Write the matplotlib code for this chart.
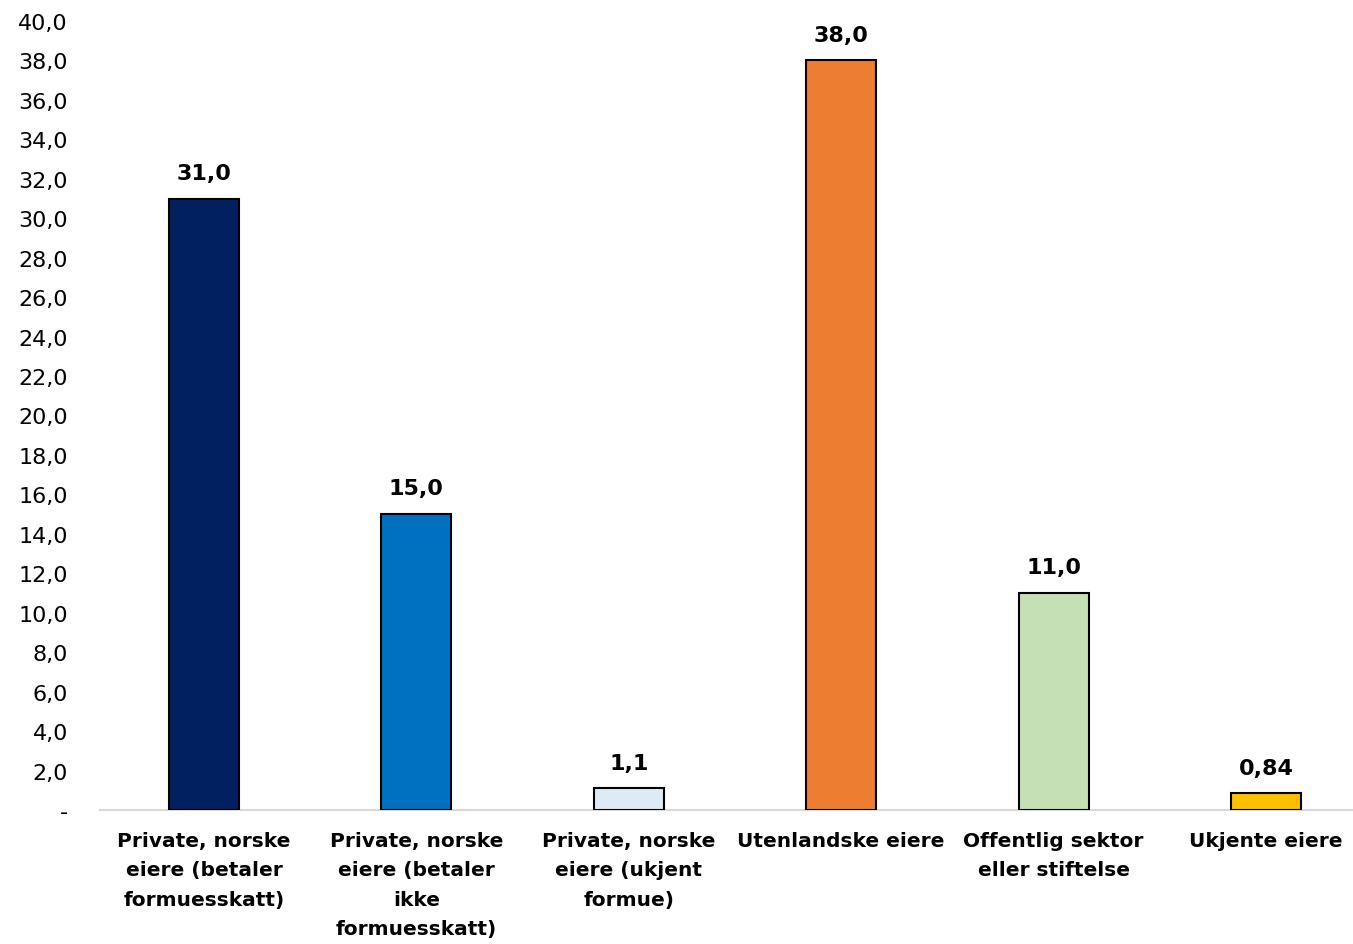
import matplotlib
matplotlib.use("Agg")
import matplotlib.pyplot as plt
from matplotlib.ticker import FuncFormatter

# --- DATA ---
categories = [
    "Private, norske\neiere (betaler\nformuesskatt)",
    "Private, norske\neiere (betaler\nikke\nformuesskatt)",
    "Private, norske\neiere (ukjent\nformue)",
    "Utenlandske eiere",
    "Offentlig sektor\neller stiftelse",
    "Ukjente eiere",
]
values = [31.0, 15.0, 1.1, 38.0, 11.0, 0.84]
value_labels = ["31,0", "15,0", "1,1", "38,0", "11,0", "0,84"]
colors = ["#002060", "#0070C0", "#DDEBF7", "#ED7D31", "#C5E0B4", "#FFC000"]

plt.rcParams["font.family"] = ["DejaVu Sans"]

fig = plt.figure(figsize=(13.53, 9.45), dpi=100)
ax = fig.add_axes([100 / 1353, 1 - 811 / 945, 1 - 100 / 1353, (811 - 22) / 945])

x = list(range(len(values)))
ax.bar(x, values, width=0.33, color=colors, edgecolor="black", linewidth=1.5, zorder=3)

for xi, v, lab in zip(x, values, value_labels):
    ax.text(xi, v + 0.8, lab, ha="center", va="bottom", fontsize=16, fontweight="bold")

ax.set_xlim(-0.49, 5.41)
ax.set_ylim(0, 40)
ax.set_yticks(range(0, 41, 2))
ax.yaxis.set_major_formatter(FuncFormatter(lambda v, p: "-" if v == 0 else f"{v:.1f}".replace(".", ",")))
ax.tick_params(axis="y", length=0, labelsize=16, pad=23)
ax.set_xticks(x)
ax.set_xticklabels(categories, fontsize=14.5, fontweight="bold", linespacing=1.7)
ax.tick_params(axis="x", length=0, pad=15)

for s in ["top", "right", "left"]:
    ax.spines[s].set_visible(False)
ax.spines["bottom"].set_color("#d9d9d9")
ax.spines["bottom"].set_linewidth(1.5)

fig.savefig("out.png", dpi=100)
